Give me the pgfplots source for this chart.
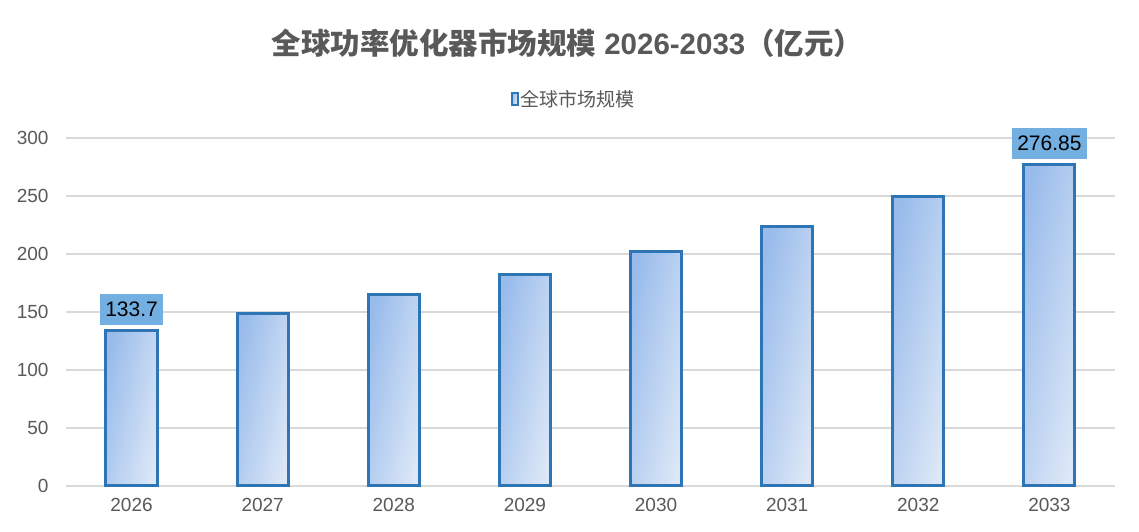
\documentclass[border=0pt]{standalone}
\usepackage{fontspec}
\setmainfont{Liberation Sans}
\newfontfamily\cjk{Noto Sans CJK SC}
\usepackage{pgfplots}
\pgfplotsset{compat=1.18}
\definecolor{tickgray}{HTML}{595959}
\definecolor{gridgray}{HTML}{D9D9D9}
\definecolor{barblue}{HTML}{2E75B6}
\definecolor{bartop}{HTML}{98BBEB}
\definecolor{barbot}{HTML}{DCE7F7}
\definecolor{labelblue}{HTML}{74AFE2}
\begin{document}
\begin{tikzpicture}[x=1pt,y=1pt]
\path[fill=white] (0,0) rectangle (1139,532);
\node[text=tickgray, font=\fontsize{29.5}{32}\selectfont\bfseries] at (567.5,489)
  {{\cjk\bfseries 全球功率优化器市场规模} 2026-2033{\cjk\bfseries （亿元）}};
\begin{axis}[
  at={(66pt,46pt)}, anchor=south west,
  scale only axis, width=1049pt, height=348pt,
  clip=false,
  xmin=-0.5, xmax=7.5, ymin=0, ymax=300,
  xtick={0,...,7},
  xticklabels={2026,2027,2028,2029,2030,2031,2032,2033},
  ytick={0,50,...,300},
  major tick length=0pt,
  tick style={draw=none},
  axis line style={draw=none},
  ymajorgrids,
  grid style={line width=1.5pt, color=gridgray},
  /pgf/number format/assume math mode=true,
  ticklabel style={font=\fontsize{19}{22}\selectfont, text=tickgray},
  yticklabel style={xshift=-14pt},
  xticklabel style={yshift=-9pt},
  legend style={at={(0.484,1.112)}, anchor=center, draw=none, fill=none,
    font=\cjk\fontsize{19}{22}\selectfont, text=tickgray,
    legend cell align=left, /tikz/every even column/.append style={column sep=2pt}},
  legend image code/.code={\draw[draw=barblue, line width=2pt, fill=barbot] (0pt,-5.5pt) rectangle (6pt,6.5pt);},
  barstyle/.style={ybar, bar width=0.39, draw=barblue, line width=3pt,
    top color=bartop, bottom color=barbot, shading angle=78},
]
\addplot[barstyle] coordinates {(0,133.7)};
\addlegendentry{全球市场规模}
\addplot[barstyle, forget plot] coordinates {(1,148.8)};
\addplot[barstyle, forget plot] coordinates {(2,165.0)};
\addplot[barstyle, forget plot] coordinates {(3,182.7)};
\addplot[barstyle, forget plot] coordinates {(4,202.4)};
\addplot[barstyle, forget plot] coordinates {(5,224.1)};
\addplot[barstyle, forget plot] coordinates {(6,249.9)};
\addplot[barstyle, forget plot] coordinates {(7,276.85)};
\addplot[draw=none, mark=none, forget plot, nodes near coords, point meta=explicit symbolic,
  nodes near coords style={anchor=south, yshift=6pt, fill=labelblue, text=black,
    font=\fontsize{21}{24}\selectfont, inner xsep=5.5pt, inner ysep=8pt}]
  coordinates {(0,133.7)[133.7] (7,276.85)[276.85]};
\end{axis}
\end{tikzpicture}
\end{document}
